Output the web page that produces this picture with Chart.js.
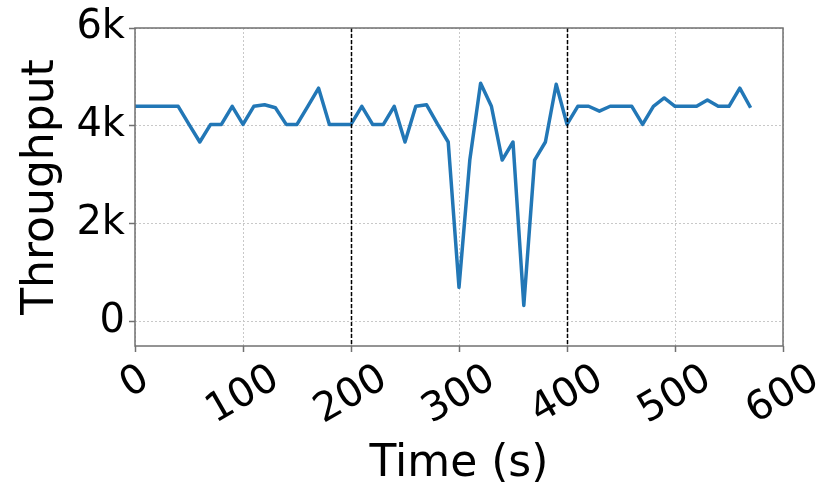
<!DOCTYPE html>
<html><head><meta charset="utf-8">
<script src="https://cdn.jsdelivr.net/npm/chart.js@4"></script>
<style>html,body{margin:0;padding:0;background:#fff}#wrap{width:828px;height:483px}</style>
</head><body><div id="wrap"><canvas id="c" width="828" height="483"></canvas></div>
<script>
const times = [0,10,20,30,40,50,60,70,80,90,100,110,120,130,140,150,160,170,180,190,
  200,210,220,230,240,250,260,270,280,290,300,310,320,330,340,350,360,370,380,390,
  400,410,420,430,440,450,460,470,480,490,500,510,520,530,540,550,560,570];
const throughput = [4400,4400,4400,4400,4400,4030,3670,4030,4030,4400,4030,4400,4430,4370,4030,4030,4400,4770,4030,4030,
  4030,4400,4030,4030,4400,3670,4400,4430,4040,3670,700,3300,4870,4400,3300,3670,330,3300,3670,4850,
  4030,4400,4400,4300,4400,4400,4400,4030,4400,4570,4400,4400,4400,4530,4400,4400,4770,4370];
const xTickValues = [0,100,200,300,400,500,600];
const xTickLabels = ['0','100','200','300','400','500','600'];
const yTickValues = [0,2000,4000,6000];
const yTickLabels = ['0','2k','4k','6k'];
const phaseMarkers = [200,400];
const xTitle = 'Time (s)';
const yTitle = 'Throughput';
const FONT = '"DejaVu Sans", sans-serif';

const overlay = {
  id: 'overlay',
  afterDatasetsDraw(chart) {
    const {ctx, chartArea: a, scales: {x}} = chart;
    ctx.save();
    ctx.strokeStyle = '#000';
    ctx.lineWidth = 1.5;
    ctx.setLineDash([4, 2]);
    phaseMarkers.forEach(v => {
      const px = Math.round(x.getPixelForValue(v)) + 0.5;
      ctx.beginPath(); ctx.moveTo(px, a.top); ctx.lineTo(px, a.bottom); ctx.stroke();
    });
    ctx.restore();
  },
  afterDraw(chart) {
    const {ctx, chartArea: a, scales: {x}} = chart;
    ctx.save();
    ctx.strokeStyle = '#707070';
    ctx.lineWidth = 1.5;
    ctx.setLineDash([]);
    ctx.strokeRect(a.left, a.top, a.right - a.left, a.bottom - a.top);
    const fs = 40;
    ctx.font = fs + 'px ' + FONT;
    ctx.fillStyle = '#000';
    const top = a.bottom + 14;
    const ang = Math.PI / 6;
    xTickValues.forEach((v, i) => {
      const px = x.getPixelForValue(v);
      const label = xTickLabels[i];
      const L = ctx.measureText(label).width;
      const H = fs * 0.73;
      const bh = L * Math.sin(ang) + H * Math.cos(ang);
      ctx.save();
      ctx.translate(px - 2, top + bh / 2);
      ctx.rotate(-ang);
      ctx.textAlign = 'center';
      ctx.textBaseline = 'alphabetic';
      ctx.fillText(label, 0, H / 2);
      ctx.restore();
    });
    ctx.font = '44px ' + FONT;
    ctx.textAlign = 'center';
    ctx.textBaseline = 'alphabetic';
    ctx.fillText(xTitle, (a.left + a.right) / 2, 476);
    ctx.save();
    ctx.translate(53, (a.top + a.bottom) / 2);
    ctx.rotate(-Math.PI / 2);
    ctx.fillText(yTitle, 0, 0);
    ctx.restore();
    ctx.restore();
  }
};

new Chart(document.getElementById('c'), {
  type: 'line',
  data: {
    datasets: [{
      data: times.map((t, i) => ({x: t, y: throughput[i]})),
      borderColor: '#2277b6',
      borderWidth: 3.5,
      borderJoinStyle: 'round',
      pointRadius: 0,
      tension: 0,
      fill: false
    }]
  },
  options: {
    responsive: false,
    animation: false,
    devicePixelRatio: 1,
    layout: {padding: {left: 0, right: 45, top: 28, bottom: 0}},
    plugins: {legend: {display: false}, tooltip: {enabled: false}},
    scales: {
      x: {
        type: 'linear', min: 0, max: 600,
        afterBuildTicks: s => { s.ticks = xTickValues.map(v => ({value: v})); },
        afterFit: s => { s.height = 137; },
        ticks: {display: false},
        grid: {color: '#c8c8c8', lineWidth: 1, drawTicks: true, tickLength: 6, tickColor: '#707070', tickWidth: 1.5},
        border: {display: false, dash: [2, 2]}
      },
      y: {
        type: 'linear', min: -500, max: 6000,
        afterBuildTicks: s => { s.ticks = yTickValues.map(v => ({value: v})); },
        afterFit: s => { s.width = 135; },
        ticks: {
          font: {family: FONT, size: 40}, color: '#000', padding: 4,
          callback: v => yTickLabels[yTickValues.indexOf(v)]
        },
        grid: {color: '#c8c8c8', lineWidth: 1, drawTicks: true, tickLength: 6, tickColor: '#707070', tickWidth: 1.5},
        border: {display: false, dash: [2, 2]}
      }
    }
  },
  plugins: [overlay]
});
</script></body></html>
